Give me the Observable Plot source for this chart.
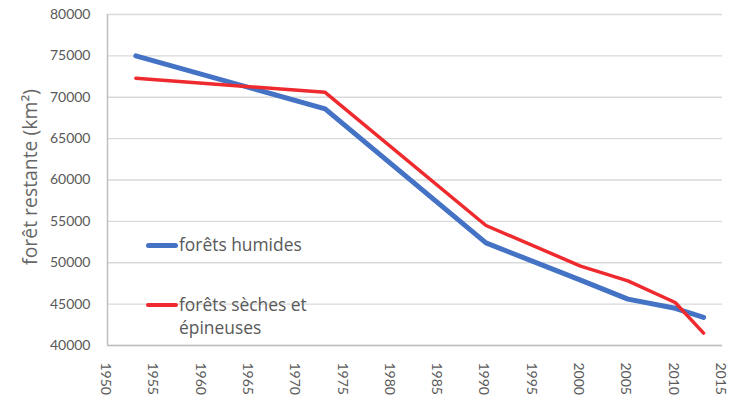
<!DOCTYPE html>
<html>
<head>
<meta charset="utf-8">
<script src="https://cdn.jsdelivr.net/npm/d3@7"></script>
<script src="https://cdn.jsdelivr.net/npm/@observablehq/plot@0.6"></script>
<style>
  body { margin: 0; background: #fff; }
  #wrap { position: relative; width: 742px; height: 401px; font-family: "Open Sans", Lato, sans-serif; }
  .leg { position: absolute; color: #595959; font-size: 17.4px; line-height: 23px; white-space: nowrap; }
  .sw { position: absolute; width: 32px; border-radius: 3px; }
</style>
</head>
<body>
<div id="wrap"></div>
<script>
const years = [1953, 1973, 1990, 2000, 2005, 2010, 2013];
const humides = [75000, 68600, 52400, 47900, 45600, 44500, 43400];
const seches = [72300, 70600, 54500, 49600, 47800, 45200, 41500];
const seriesNames = ["forêts humides", "forêts sèches et épineuses"];
const xTicks = d3.range(1950, 2016, 5);
const yTicks = d3.range(40000, 80001, 5000);

const rows = [
  ...years.map((y, i) => ({year: y, value: humides[i], s: seriesNames[0]})),
  ...years.map((y, i) => ({year: y, value: seches[i], s: seriesNames[1]}))
];

const gray = "#595959";
const plot = Plot.plot({
  width: 742,
  height: 401,
  marginLeft: 107,
  marginRight: 20,
  marginTop: 14,
  marginBottom: 56,
  style: {fontFamily: "Lato, 'Open Sans', sans-serif", fontSize: "14px", color: gray, background: "white"},
  x: {domain: [1950, 2015]},
  y: {domain: [40000, 80000]},
  marks: [
    Plot.gridY(yTicks, {stroke: "#d9d9d9", strokeOpacity: 1, strokeWidth: 1.3}),
    Plot.axisY(yTicks, {tickSize: 0, tickPadding: 17, tickFormat: d => String(d), label: null, fontSize: 14, fill: gray}),
    Plot.axisX(xTicks, {tickSize: 0, tickPadding: 17, tickRotate: 90, tickFormat: d => String(d), label: null, fontSize: 14, fill: gray, dx: -2}),
    Plot.ruleX([1950], {stroke: "#bfbfbf", strokeWidth: 1.5}),
    Plot.ruleY([40000], {stroke: "#bfbfbf", strokeWidth: 1.5}),
    Plot.line(rows.filter(d => d.s === seriesNames[0]), {x: "year", y: "value", stroke: "#4472c4", strokeWidth: 5, strokeLinecap: "round", strokeLinejoin: "round"}),
    Plot.line(rows.filter(d => d.s === seriesNames[1]), {x: "year", y: "value", stroke: "#ee2a2e", strokeWidth: 3.5, strokeLinecap: "round", strokeLinejoin: "round"}),
    Plot.text(["forêt restante (km²)"], {frameAnchor: "left", textAnchor: "middle", dx: -77, dy: -3, rotate: -90, fontSize: 19.4, fontFamily: "'Open Sans', sans-serif", fill: "#666666"})
  ]
});

const wrap = document.getElementById("wrap");
wrap.appendChild(plot);

function addLegend(color, w, top, lines) {
  const sw = document.createElement("div");
  sw.className = "sw";
  sw.style.left = "146px";
  sw.style.top = (top - w / 2) + "px";
  sw.style.height = w + "px";
  sw.style.background = color;
  wrap.appendChild(sw);
  const t = document.createElement("div");
  t.className = "leg";
  t.style.left = "179px";
  t.style.top = (top - 12) + "px";
  t.innerHTML = lines.join("<br>");
  wrap.appendChild(t);
}
addLegend("#4472c4", 5, 245, ["forêts humides"]);
addLegend("#ee2a2e", 3.5, 305, ["forêts sèches et", "épineuses"]);
</script>
</body>
</html>
